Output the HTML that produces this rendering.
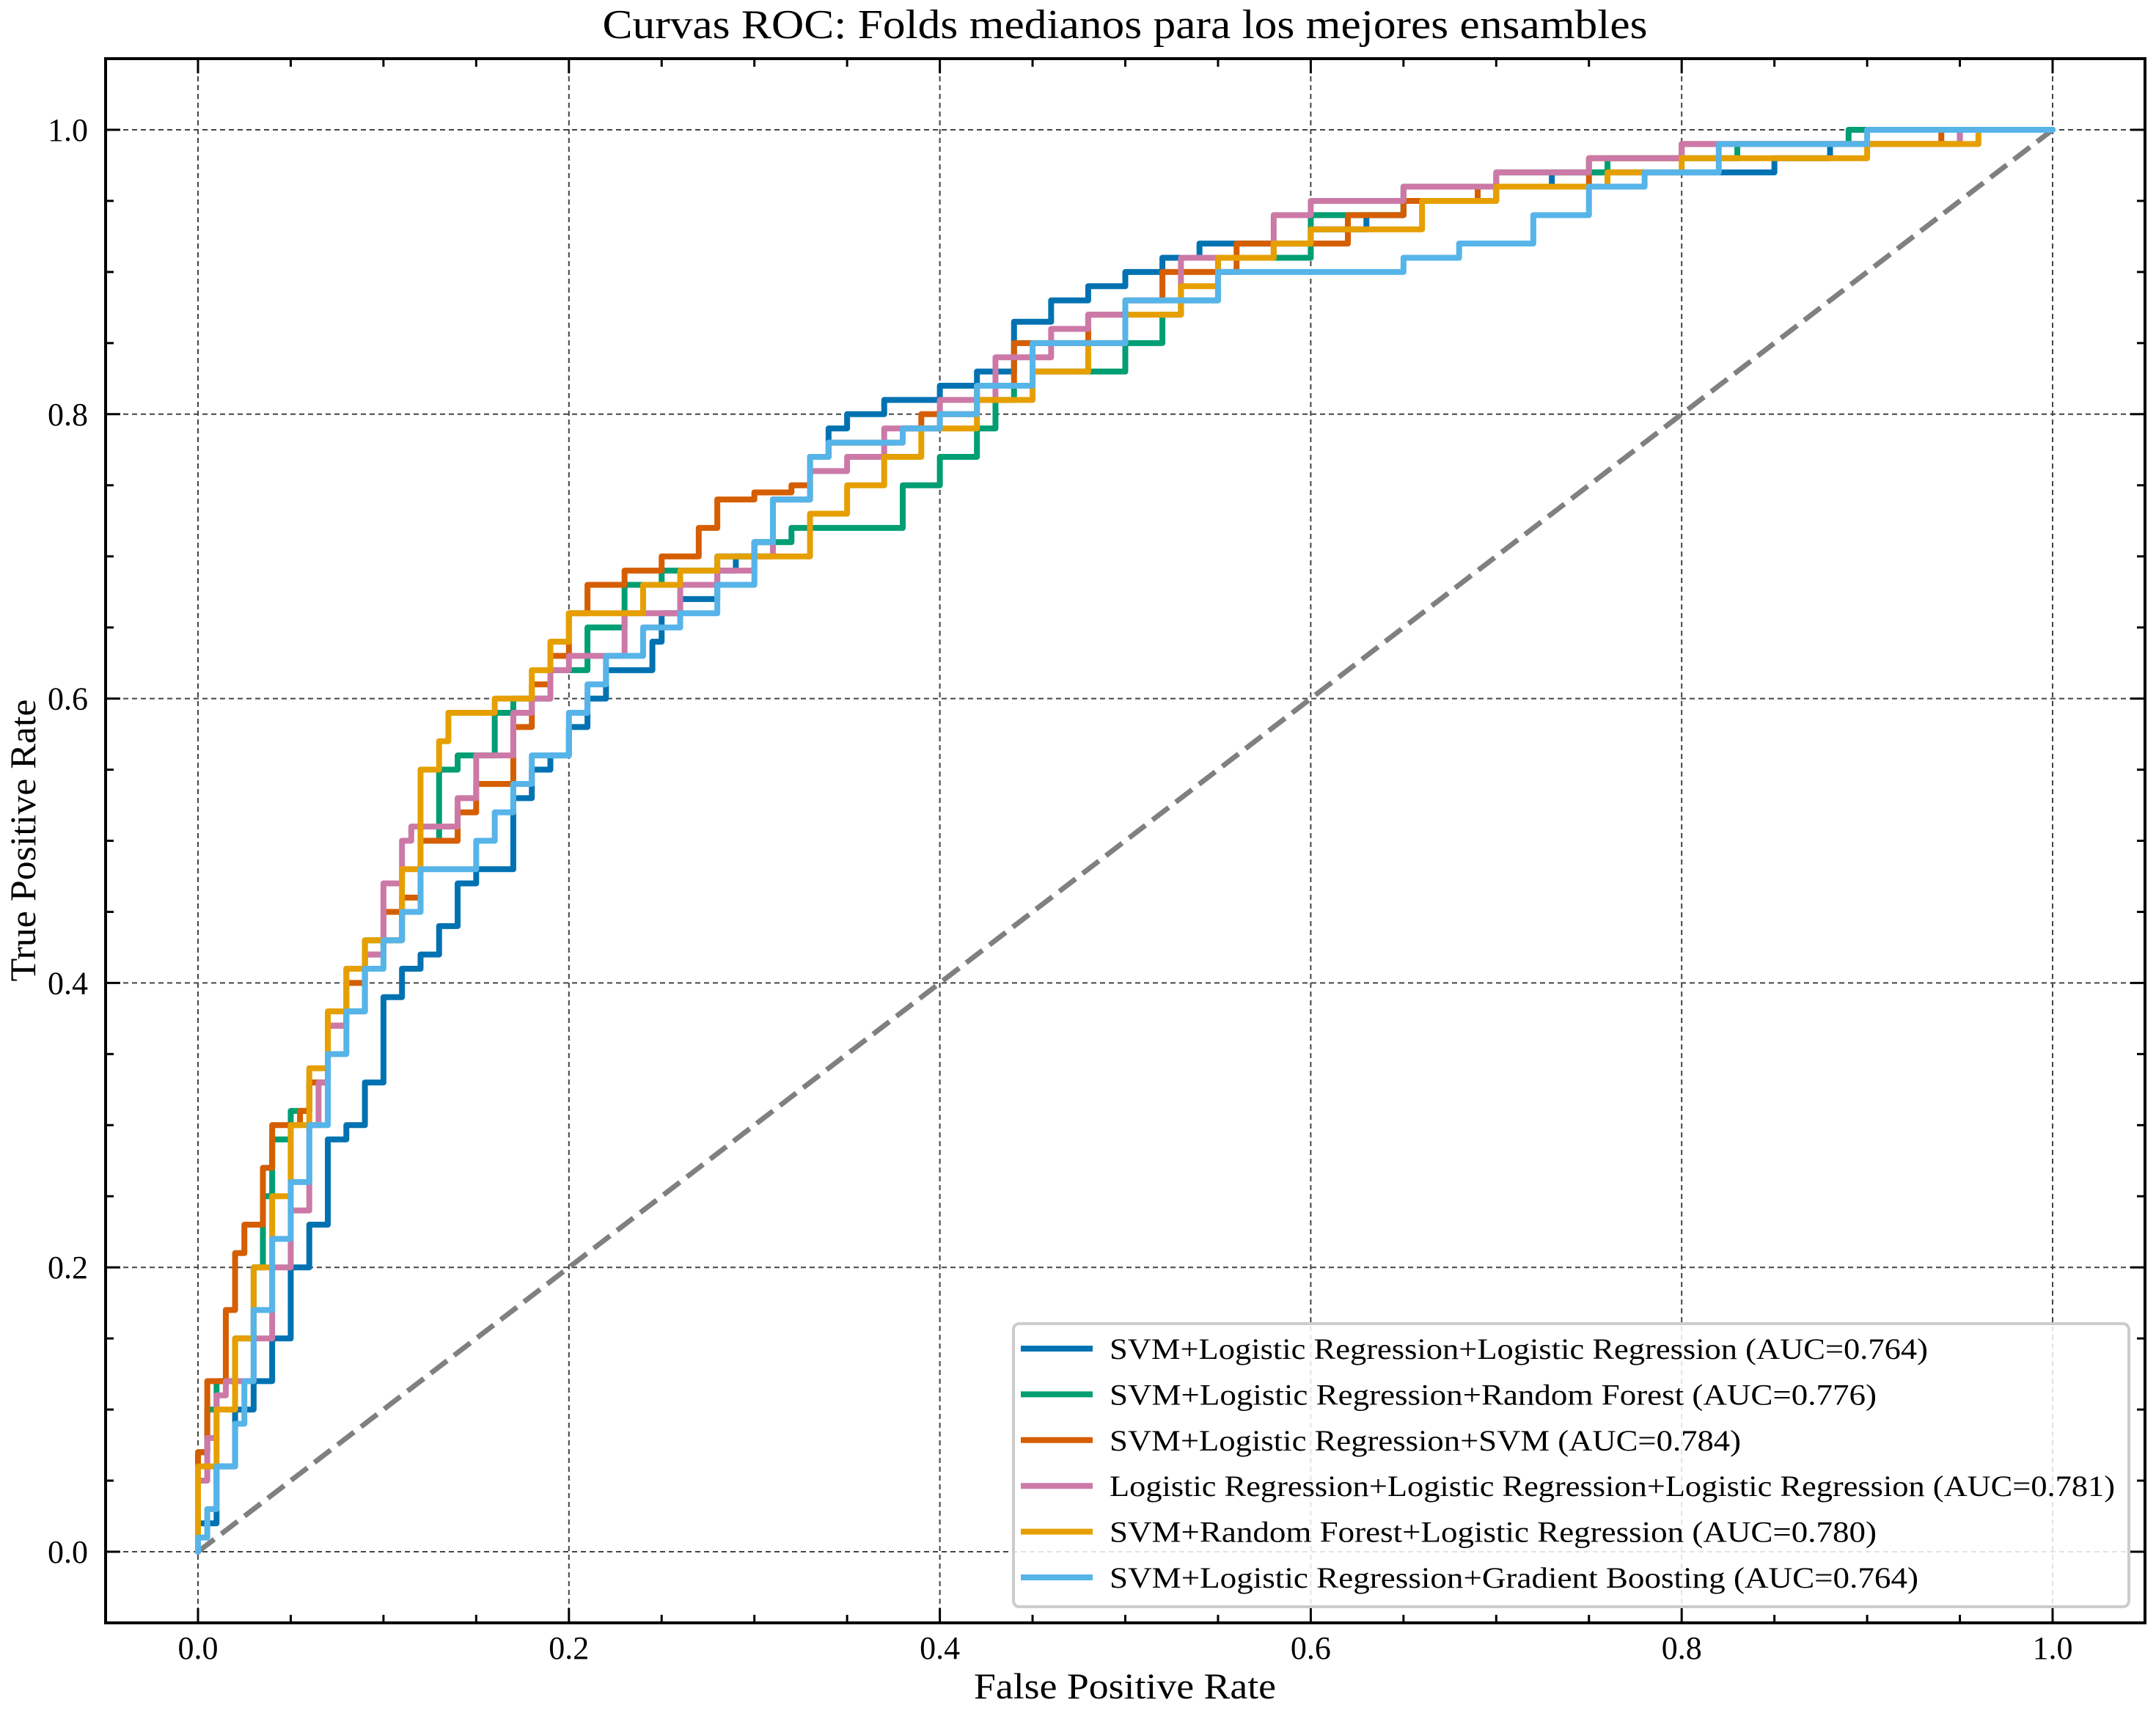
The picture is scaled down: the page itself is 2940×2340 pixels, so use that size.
<!DOCTYPE html>
<html><head><meta charset="utf-8"><style>
html,body{margin:0;padding:0;background:#fff}
svg{display:block}
text{font-family:"Liberation Serif",serif;fill:#000}
</style></head><body>
<svg id="chart" width="2940" height="2340" viewBox="0 0 2940 2340" xmlns="http://www.w3.org/2000/svg">
<rect x="0" y="0" width="2940" height="2340" fill="#fff"/>
<text x="1534" y="52" font-size="56" text-anchor="middle" textLength="1425" lengthAdjust="spacingAndGlyphs">Curvas ROC: Folds medianos para los mejores ensambles</text>
<text x="1534" y="2316" font-size="50" text-anchor="middle" textLength="412" lengthAdjust="spacingAndGlyphs">False Positive Rate</text>
<text x="0" y="0" font-size="50" text-anchor="middle" textLength="385" lengthAdjust="spacingAndGlyphs" transform="translate(48,1146) rotate(-90)">True Positive Rate</text>
<g id="grid"></g>
<g id="series"></g>
<rect x="144" y="80" width="2781" height="2133" fill="none" stroke="#000" stroke-width="4"/>
<g id="ticks"></g>
<g id="legend"></g>
</svg>
<script>
const xTicks = [0, 0.2, 0.4, 0.6, 0.8, 1.0];
const yTicks = [0, 0.2, 0.4, 0.6, 0.8, 1.0];
const tickLabels = ["0.0", "0.2", "0.4", "0.6", "0.8", "1.0"];
const seriesNames = [
 "SVM+Logistic Regression+Logistic Regression (AUC=0.764)",
 "SVM+Logistic Regression+Random Forest (AUC=0.776)",
 "SVM+Logistic Regression+SVM (AUC=0.784)",
 "Logistic Regression+Logistic Regression+Logistic Regression (AUC=0.781)",
 "SVM+Random Forest+Logistic Regression (AUC=0.780)",
 "SVM+Logistic Regression+Gradient Boosting (AUC=0.764)"
];
const seriesColors = ["#0072B2", "#009E73", "#D55E00", "#CC79A7", "#E69F00", "#56B4E9"];

const fpr1 = [0,0.01,0.02,0.03,0.04,0.05,0.05,0.06,0.07,0.07,0.08,0.09,0.1,0.1,0.11,0.12,0.13,0.14,0.15,0.17,0.17,0.18,0.19,0.2,0.21,0.22,0.245,0.25,0.26,0.28,0.29,0.3,0.31,0.33,0.34,0.35,0.37,0.4,0.42,0.44,0.44,0.46,0.48,0.5,0.52,0.54,0.6,0.63,0.65,0.7,0.73,0.78,0.85,0.88,0.95,1];
const tpr1 = [0,0.02,0.06,0.1,0.12,0.15,0.18,0.2,0.23,0.27,0.29,0.3,0.33,0.36,0.39,0.41,0.42,0.44,0.47,0.48,0.51,0.53,0.55,0.56,0.58,0.6,0.62,0.64,0.66,0.67,0.69,0.7,0.71,0.74,0.77,0.79,0.8,0.81,0.82,0.83,0.85,0.865,0.88,0.89,0.9,0.91,0.92,0.93,0.94,0.95,0.96,0.97,0.97,0.98,0.99,1];
const fpr2 = [0,0,0.005,0.01,0.02,0.03,0.035,0.04,0.05,0.06,0.07,0.08,0.09,0.11,0.12,0.13,0.14,0.16,0.17,0.19,0.21,0.23,0.25,0.28,0.3,0.32,0.38,0.4,0.42,0.43,0.44,0.45,0.5,0.52,0.53,0.55,0.6,0.65,0.7,0.76,0.83,0.89,0.9,1];
const tpr2 = [0,0.02,0.07,0.1,0.12,0.15,0.2,0.25,0.29,0.31,0.33,0.37,0.38,0.43,0.45,0.5,0.55,0.56,0.59,0.6,0.62,0.65,0.68,0.69,0.7,0.71,0.72,0.75,0.77,0.79,0.81,0.82,0.83,0.85,0.87,0.88,0.91,0.94,0.96,0.97,0.98,0.99,1,1];
const fpr3 = [0,0,0.005,0.015,0.02,0.025,0.035,0.04,0.055,0.06,0.07,0.08,0.09,0.1,0.11,0.12,0.14,0.15,0.17,0.18,0.19,0.2,0.21,0.23,0.25,0.27,0.28,0.3,0.32,0.33,0.34,0.38,0.39,0.42,0.44,0.48,0.5,0.52,0.56,0.62,0.65,0.69,0.75,0.8,0.83,0.94,1];
const tpr3 = [0,0.02,0.07,0.12,0.17,0.21,0.23,0.27,0.3,0.31,0.33,0.37,0.4,0.42,0.45,0.46,0.5,0.52,0.54,0.58,0.61,0.63,0.66,0.68,0.69,0.7,0.72,0.74,0.745,0.75,0.77,0.78,0.79,0.8,0.82,0.85,0.87,0.88,0.9,0.92,0.94,0.95,0.96,0.98,0.99,0.99,1];
const fpr4 = [0,0.005,0.01,0.015,0.03,0.04,0.05,0.06,0.065,0.07,0.08,0.09,0.1,0.11,0.115,0.14,0.15,0.17,0.18,0.19,0.2,0.23,0.26,0.28,0.3,0.31,0.33,0.35,0.37,0.4,0.43,0.46,0.48,0.5,0.53,0.58,0.6,0.65,0.7,0.75,0.8,0.95,1];
const tpr4 = [0,0.05,0.08,0.11,0.12,0.15,0.2,0.24,0.3,0.33,0.37,0.41,0.42,0.47,0.5,0.51,0.53,0.56,0.59,0.6,0.62,0.63,0.66,0.68,0.69,0.7,0.74,0.76,0.77,0.79,0.81,0.84,0.86,0.87,0.88,0.91,0.94,0.95,0.96,0.97,0.98,0.99,1];
const fpr5 = [0,0,0.01,0.02,0.03,0.04,0.05,0.06,0.07,0.08,0.09,0.11,0.12,0.13,0.135,0.16,0.18,0.19,0.2,0.24,0.26,0.28,0.33,0.35,0.37,0.39,0.42,0.45,0.48,0.5,0.53,0.55,0.58,0.6,0.66,0.7,0.76,0.8,0.9,0.96,1];
const tpr5 = [0,0.03,0.06,0.1,0.15,0.2,0.25,0.3,0.34,0.38,0.41,0.43,0.48,0.55,0.57,0.59,0.6,0.62,0.64,0.66,0.68,0.69,0.7,0.73,0.75,0.77,0.79,0.81,0.83,0.85,0.87,0.89,0.91,0.92,0.93,0.95,0.96,0.97,0.98,0.99,1];
const fpr6 = [0,0.005,0.01,0.02,0.025,0.03,0.04,0.05,0.06,0.07,0.08,0.09,0.1,0.11,0.12,0.15,0.16,0.17,0.18,0.2,0.21,0.22,0.24,0.26,0.28,0.3,0.31,0.33,0.34,0.38,0.4,0.42,0.45,0.5,0.55,0.58,0.65,0.68,0.72,0.75,0.78,0.82,0.9,0.95,1];
const tpr6 = [0,0.01,0.03,0.06,0.09,0.12,0.17,0.22,0.26,0.3,0.35,0.38,0.41,0.43,0.45,0.48,0.5,0.52,0.54,0.56,0.59,0.61,0.63,0.65,0.66,0.68,0.71,0.74,0.77,0.78,0.79,0.8,0.82,0.85,0.88,0.9,0.9,0.91,0.92,0.94,0.96,0.97,0.99,1,1];
const fprAll = [fpr1, fpr2, fpr3, fpr4, fpr5, fpr6];
const tprAll = [tpr1, tpr2, tpr3, tpr4, tpr5, tpr6];
const legendTextWidths = [1116, 1046, 861, 1371, 1046, 1103];

const NS = "http://www.w3.org/2000/svg";
const X = v => 270 + v * 2529;
const Y = v => 2116 - v * 1939;
function mk(tag, attrs, parent) {
  const e = document.createElementNS(NS, tag);
  for (const k in attrs) e.setAttribute(k, attrs[k]);
  parent.appendChild(e);
  return e;
}
const grid = document.getElementById('grid');
const ticks = document.getElementById('ticks');
xTicks.forEach((t, i) => {
  const g = mk('line', {x1: X(t), x2: X(t), y1: 80, y2: 2213, stroke: '#444', 'stroke-width': 2, 'stroke-dasharray': '7,5'}, grid);
  
  
  const lb = mk('text', {x: X(t), y: 2262, 'font-size': 44, 'text-anchor': 'middle'}, ticks);
  lb.textContent = tickLabels[i];
  
  
});
yTicks.forEach((t, i) => {
  const g = mk('line', {x1: 144, x2: 2925, y1: Y(t), y2: Y(t), stroke: '#444', 'stroke-width': 2, 'stroke-dasharray': '7,5'}, grid);
  
  
  const lb = mk('text', {x: 120, y: Y(t) + 15, 'font-size': 44, 'text-anchor': 'end'}, ticks);
  lb.textContent = tickLabels[i];
  
  
});
for (let k = -1; k <= 21; k++) {
  const v = k * 0.05;
  const major = k % 4 === 0;
  const L = major ? 20 : 11;
  const tx = X(v), ty = Y(v);
  if (tx >= 144 && tx <= 2925) {
    let a = mk('line', {x1: tx, x2: tx, y1: 2213, y2: 2213 - L, stroke: '#000', 'stroke-width': 3}, ticks);
    
    
    let b = mk('line', {x1: tx, x2: tx, y1: 80, y2: 80 + L, stroke: '#000', 'stroke-width': 3}, ticks);
    
    
  }
  if (ty >= 80 && ty <= 2213) {
    let a = mk('line', {x1: 144, x2: 144 + L, y1: ty, y2: ty, stroke: '#000', 'stroke-width': 3}, ticks);
    
    
    let b = mk('line', {x1: 2925, x2: 2925 - L, y1: ty, y2: ty, stroke: '#000', 'stroke-width': 3}, ticks);
    
    
  }
}
const series = document.getElementById('series');
const diag = mk('line', {x1: X(0), y1: Y(0), x2: X(1), y2: Y(1), stroke: '#808080', 'stroke-width': 7, 'stroke-dasharray': '28,12'}, series);


fprAll.forEach((fx, s) => {
  const ty = tprAll[s];
  let d = 'M' + X(fx[0]) + ',' + Y(ty[0]);
  for (let i = 1; i < fx.length; i++) {
    d += ' L' + X(fx[i - 1]) + ',' + Y(ty[i]) + ' L' + X(fx[i]) + ',' + Y(ty[i]);
  }
  const p = mk('path', {d: d, fill: 'none', stroke: seriesColors[s], 'stroke-width': 8, 'stroke-linejoin': 'round', 'stroke-linecap': 'round'}, series);
  
  
});
const legend = document.getElementById('legend');
const box = mk('rect', {x: 1382, y: 1805, width: 1521, height: 386, rx: 8, fill: '#fff', 'fill-opacity': 0.85, stroke: '#ccc', 'stroke-width': 4}, legend);


seriesNames.forEach((n, i) => {
  const yy = 1839 + i * 62.4;
  const ln = mk('line', {x1: 1392, x2: 1490, y1: yy, y2: yy, stroke: seriesColors[i], 'stroke-width': 8}, legend);
  
  
  const tx = mk('text', {x: 1513, y: yy + 14, 'font-size': 40, textLength: legendTextWidths[i], lengthAdjust: 'spacingAndGlyphs'}, legend);
  tx.textContent = n;
  
  
});
</script>
</body></html>
